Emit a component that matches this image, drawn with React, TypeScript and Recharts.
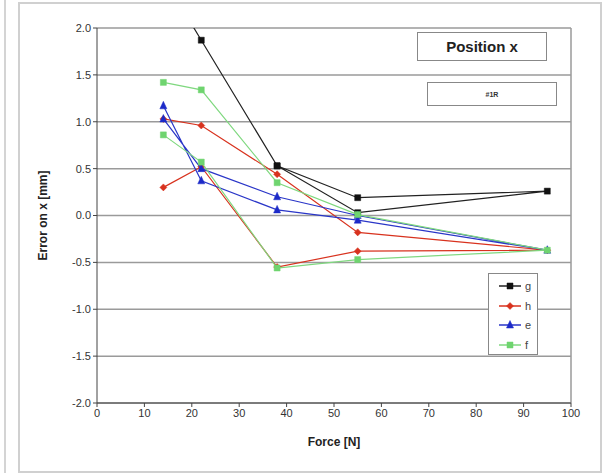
import { ScatterChart, Scatter, XAxis, YAxis, CartesianGrid, ReferenceLine } from 'recharts';

// Force values (N) in the order they were measured: loading up, then unloading back down
const FORCE_G = [14, 22, 38, 55, 95, 55, 38];
const ERR_G = [2.54, 1.87, 0.53, 0.19, 0.26, 0.03, 0.53];

const FORCE_H = [14, 22, 38, 55, 95, 55, 38, 22, 14];
const ERR_H = [1.03, 0.96, 0.44, -0.18, -0.37, -0.38, -0.55, 0.52, 0.3];

const FORCE_E = [14, 22, 38, 55, 95, 55, 38, 22, 14];
const ERR_E = [1.17, 0.37, 0.06, -0.05, -0.37, 0.0, 0.2, 0.5, 1.03];

const FORCE_F = [14, 22, 38, 55, 95, 55, 38, 22, 14];
const ERR_F = [1.42, 1.34, 0.35, 0.01, -0.37, -0.47, -0.56, 0.57, 0.86];

const X_TICKS = [0, 10, 20, 30, 40, 50, 60, 70, 80, 90, 100];
const Y_TICKS = [-2, -1.5, -1, -0.5, 0, 0.5, 1, 1.5, 2];

const FONT = '"Liberation Sans", Arial, sans-serif';

const toPoints = (xs: number[], ys: number[]) => xs.map((x, i) => ({ x, y: ys[i] }));

const SERIES = [
  { name: 'g', color: '#111111', line: '#222222', kind: 'square', data: toPoints(FORCE_G, ERR_G) },
  { name: 'h', color: '#d8321e', line: '#d8321e', kind: 'diamond', data: toPoints(FORCE_H, ERR_H) },
  { name: 'e', color: '#1c2ac8', line: '#2a36c8', kind: 'triangle', data: toPoints(FORCE_E, ERR_E) },
  { name: 'f', color: '#6fd46f', line: '#7fd87f', kind: 'square', data: toPoints(FORCE_F, ERR_F) },
];

function markerPath(kind: string, cx: number, cy: number, s: number) {
  if (kind === 'triangle') return `M${cx},${cy - s - 1}L${cx + s},${cy + s - 0.5}L${cx - s},${cy + s - 0.5}Z`;
  if (kind === 'diamond') return `M${cx},${cy - s}L${cx + s},${cy}L${cx},${cy + s}L${cx - s},${cy}Z`;
  return `M${cx - s + 0.5},${cy - s + 0.5}h${2 * s - 1}v${2 * s - 1}h${-(2 * s - 1)}Z`;
}

const makeShape = (kind: string, color: string) => (p: any) => {
  if (p.cx == null || p.cy == null) return <g />;
  return <path d={markerPath(kind, p.cx, p.cy, 3.5)} fill={color} stroke={color} strokeWidth={0.5} />;
};

export default function App() {
  return (
    <div style={{ position: 'absolute', left: 0, top: 0, width: 607, height: 473, background: '#fff', fontFamily: FONT }}>
      {/* neighbouring frame edge + outer chart frame */}
      <div style={{ position: 'absolute', left: 4, top: 0, width: 2, height: 473, background: '#d4d4d4' }} />
      <div style={{ position: 'absolute', left: 18, top: 2, width: 580, height: 467, border: '2px solid #d0d0d0' }} />

      <ScatterChart width={607} height={473} margin={{ top: 28, right: 36, bottom: 30, left: 47 }} style={{ position: 'absolute', left: 0, top: 0 }}>
        <CartesianGrid vertical={false} stroke="#9a9a9a" strokeWidth={1.5} />
        <XAxis
          type="number"
          dataKey="x"
          domain={[0, 100]}
          ticks={X_TICKS}
          height={40}
          stroke="#444"
          tickSize={4}
          tick={{ fill: '#333', fontSize: 11, fontFamily: FONT }}
          label={{ value: 'Force [N]', position: 'insideBottom', offset: -3, fill: '#222', fontSize: 12, fontWeight: 'bold', fontFamily: FONT }}
        />
        <YAxis
          type="number"
          dataKey="y"
          domain={[-2, 2]}
          allowDataOverflow
          ticks={Y_TICKS}
          width={50}
          stroke="#444"
          tickSize={4}
          tickFormatter={(v: number) => v.toFixed(1)}
          tick={{ fill: '#333', fontSize: 11, fontFamily: FONT }}
          label={{ value: 'Error on x [mm]', angle: -90, position: 'insideLeft', offset: 0, dx: -4, fill: '#222', fontSize: 12, fontWeight: 'bold', fontFamily: FONT, style: { textAnchor: 'middle' } }}
        />
        <ReferenceLine x={100} stroke="#9a9a9a" strokeWidth={1.5} />
        {SERIES.map((s) => (
          <Scatter
            key={s.name}
            name={s.name}
            data={s.data}
            fill={s.color}
            line={{ stroke: s.line, strokeWidth: 1.2 }}
            lineType="joint"
            shape={makeShape(s.kind, s.color)}
            isAnimationActive={false}
          />
        ))}
      </ScatterChart>

      {/* title boxes */}
      <div style={{ position: 'absolute', left: 417, top: 32, width: 128, height: 27, border: '1.5px solid #888', background: '#fff', display: 'flex', alignItems: 'center', justifyContent: 'center', fontSize: 15, fontWeight: 'bold', color: '#222' }}>
        Position x
      </div>
      <div style={{ position: 'absolute', left: 427, top: 82, width: 128, height: 22, border: '1px solid #888', background: '#fff', display: 'flex', alignItems: 'center', justifyContent: 'center', fontSize: 7, fontWeight: 'bold', color: '#333' }}>
        #1R
      </div>

      {/* legend */}
      <div style={{ position: 'absolute', left: 488, top: 273, width: 48, height: 80, border: '1px solid #888', background: '#fff' }}>
        {SERIES.map((s, i) => (
          <div key={s.name} style={{ position: 'absolute', left: 0, top: 4 + i * 19.5, width: 48, height: 16 }}>
            <svg width={30} height={16} style={{ position: 'absolute', left: 6, top: 0 }}>
              <line x1={4} y1={8} x2={26} y2={8} stroke={s.line} strokeWidth={1.5} />
              <path d={markerPath(s.kind, 15, 8, 3.5)} fill={s.color} stroke={s.color} strokeWidth={0.5} />
            </svg>
            <span style={{ position: 'absolute', left: 36, top: 0, fontSize: 11, color: '#444', lineHeight: '16px' }}>{s.name}</span>
          </div>
        ))}
      </div>
    </div>
  );
}
